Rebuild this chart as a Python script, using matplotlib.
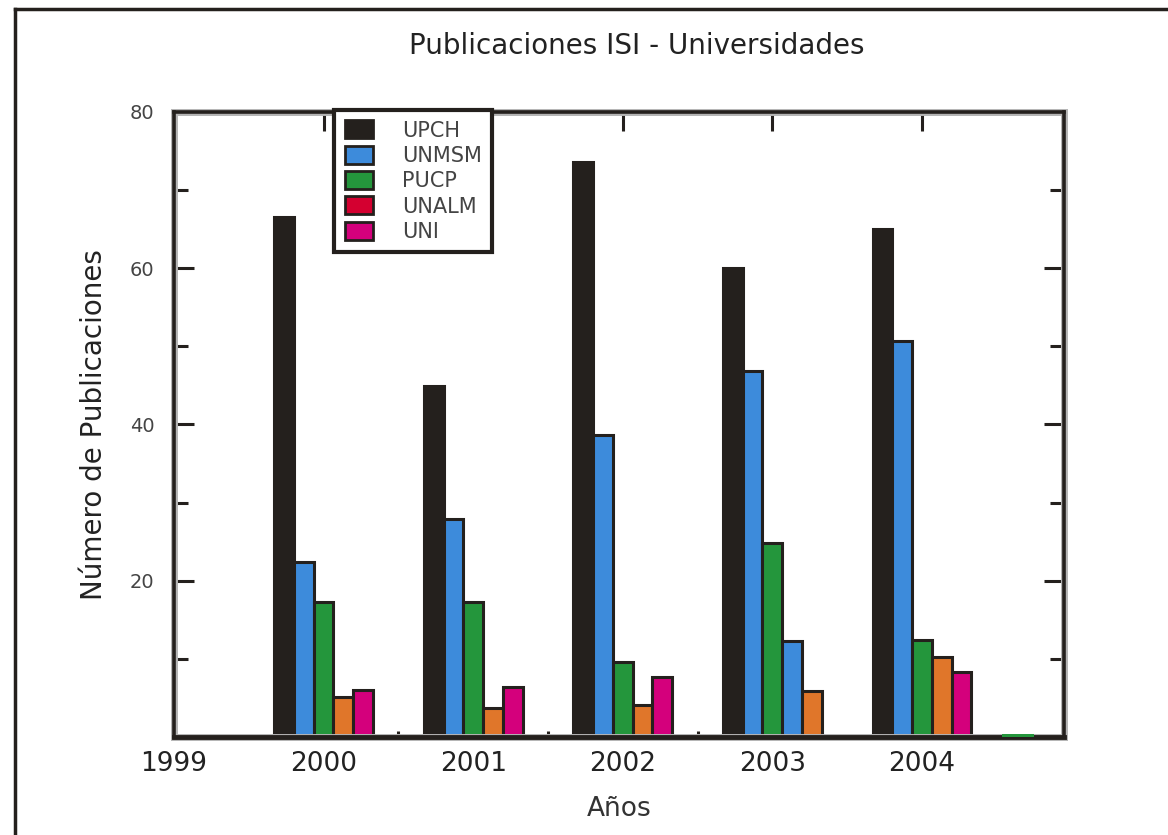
import matplotlib.pyplot as plt
from matplotlib.patches import Patch, Rectangle
from matplotlib.lines import Line2D

# Datos
anios = [2000, 2001, 2002, 2003, 2004]
tick_anios = [1999, 2000, 2001, 2002, 2003, 2004]
upch = [66.5, 44.9, 73.6, 60.0, 65.0]
unmsm = [22.4, 27.9, 38.7, 46.9, 50.7]
pucp = [17.3, 17.3, 9.6, 24.8, 12.4]
barra4 = [5.1, 3.7, 4.1, 12.3, 10.2]
barra5 = [6.0, 6.4, 7.7, 5.9, 8.3]
extra_x = [2004.64]
extra_val = [0.35]

universidades = ["UPCH", "UNMSM", "PUCP", "UNALM", "UNI"]

NEGRO = "#24201d"
AZUL = "#3d8bdb"
VERDE = "#24963c"
NARANJA = "#e0762a"
ROJO = "#d40030"
MAGENTA = "#d4007c"

colores_barra4 = [NARANJA, NARANJA, NARANJA, AZUL, NARANJA]
colores_barra5 = [MAGENTA, MAGENTA, MAGENTA, NARANJA, MAGENTA]

fig = plt.figure(figsize=(11.68, 8.35), dpi=100)
ax = fig.add_axes([0.149, 0.1174, 0.762, 0.7486])

w = 0.132
series = [
    (upch, [NEGRO] * 5),
    (unmsm, [AZUL] * 5),
    (pucp, [VERDE] * 5),
    (barra4, colores_barra4),
    (barra5, colores_barra5),
]
for i, (vals, cols) in enumerate(series):
    xs = [a + (i - 2) * w for a in anios]
    ax.bar(xs, vals, width=w, color=cols, edgecolor=NEGRO, linewidth=2.2, zorder=2)

ax.bar(extra_x, extra_val, width=0.213, color=VERDE, linewidth=0, zorder=6)

ax.set_xlim(1999, 2004.95)
ax.set_ylim(0, 80)
ax.set_axisbelow(True)

ax.set_xticks(tick_anios)
ax.set_xticklabels([str(a) for a in tick_anios], fontsize=19, color="#222222")
ax.set_xticks([2000.5, 2001.5, 2002.5], minor=True)
ax.set_yticks([20, 40, 60, 80])
ax.set_yticklabels(["20", "40", "60", "80"], fontsize=14, color="#444444")
ax.set_yticks([10, 30, 50, 70], minor=True)

ax.tick_params(axis="x", which="major", direction="in", top=True, bottom=True,
               length=14, width=2.2, color=NEGRO, pad=10)
ax.tick_params(axis="x", which="minor", direction="in", top=False, bottom=True,
               length=4.5, width=2.2, color=NEGRO)
ax.tick_params(axis="y", which="major", direction="in", left=True, right=True,
               length=14.5, width=2.2, color=NEGRO, pad=14)
ax.tick_params(axis="y", which="minor", direction="in", left=True, right=True,
               length=10, width=2.2, color=NEGRO)

for lado in ax.spines.values():
    lado.set_linewidth(2.6)
    lado.set_color(NEGRO)
    lado.set_zorder(4)
ax.spines["bottom"].set_linewidth(3.5)

# halo gris del marco
ax.add_patch(Rectangle((0, 0), 1, 1, transform=ax.transAxes, fill=False,
                       edgecolor="#b4b4b4", linewidth=5, zorder=3, clip_on=False))

ax.set_ylabel("Número de Publicaciones", fontsize=20, labelpad=16, color="#222222")
ax.set_xlabel("Años", fontsize=19, labelpad=14, color="#333333")
fig.text(0.545, 0.945, "Publicaciones ISI - Universidades", fontsize=20,
         ha="center", va="center", color="#222222")

handles = [
    Patch(facecolor=NEGRO, edgecolor=NEGRO, linewidth=2),
    Patch(facecolor=AZUL, edgecolor=NEGRO, linewidth=2),
    Patch(facecolor=VERDE, edgecolor=NEGRO, linewidth=2),
    Patch(facecolor=ROJO, edgecolor=NEGRO, linewidth=2),
    Patch(facecolor=MAGENTA, edgecolor=NEGRO, linewidth=2),
]
leg = ax.legend(handles, universidades, loc="upper left", bbox_to_anchor=(0.18, 1.003),
                borderaxespad=0, fancybox=False, framealpha=1, fontsize=15,
                handlelength=1.35, handleheight=0.95, handletextpad=1.4,
                labelspacing=0.25, borderpad=0.5)
leg.get_frame().set_edgecolor(NEGRO)
leg.get_frame().set_linewidth(3)
leg.set_zorder(5)
for t in leg.get_texts():
    t.set_color("#444444")

# borde de la figura
fig.add_artist(Line2D([14.5 / 1168, 1], [1 - 8.5 / 835, 1 - 8.5 / 835],
                      transform=fig.transFigure, color=NEGRO, linewidth=2.5))
fig.add_artist(Line2D([14.5 / 1168, 14.5 / 1168], [0, 1 - 8.5 / 835],
                      transform=fig.transFigure, color=NEGRO, linewidth=2.5))

fig.savefig("out.png", dpi=100)
